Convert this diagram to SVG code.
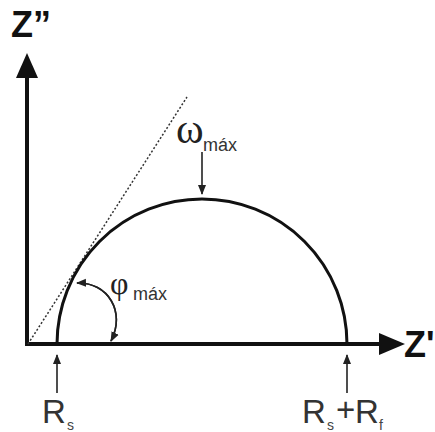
<svg xmlns="http://www.w3.org/2000/svg" width="435" height="432" viewBox="0 0 435 432">
<style>
.axis{stroke:#111;stroke-width:4;fill:none}
.curve{stroke:#111;stroke-width:3;fill:none}
.thin{stroke:#222;stroke-width:1.6;fill:none}
.dot{stroke:#333;stroke-width:1.5;stroke-dasharray:2 2;fill:none}
.big{font-family:"Liberation Sans",Arial,sans-serif;font-weight:bold;font-size:36px;fill:#111}
.lab{font-family:"Liberation Sans",Arial,sans-serif;font-size:33px;fill:#333}
.sub{font-family:"Liberation Sans",Arial,sans-serif;font-size:14px;fill:#444}
.msub{font-family:"Liberation Sans",Arial,sans-serif;font-size:18px;fill:#333}
.greek{font-family:"Liberation Serif","Times New Roman",serif;fill:#222}
</style>
<defs>
<marker id="ah" markerUnits="userSpaceOnUse" markerWidth="10" markerHeight="10" viewBox="0 0 10 10" refX="9" refY="5" orient="auto">
<path d="M0,1 L10,5 L0,9 Z" fill="#222"/>
</marker>
</defs>
<g id="connectors">
<line class="axis" x1="27" y1="346" x2="27" y2="74"/>
<polygon points="27,53 16,78 38,78" fill="#111"/>
<line class="axis" x1="25" y1="344" x2="382" y2="344"/>
<polygon points="405,344 379,333 379,355" fill="#111"/>
<line class="dot" x1="28" y1="344" x2="187" y2="97"/>
<path class="curve" d="M57,344 A145,145 0 0 1 347,344"/>
<path class="thin" d="M111,341 C126,312 108,282 77,283" marker-end="url(#ah)"/>
<path class="thin" d="M77,283 C108,282 126,312 111,341" marker-end="url(#ah)"/>
<line class="thin" x1="57" y1="393" x2="57" y2="355" marker-end="url(#ah)"/>
<line class="thin" x1="347" y1="393" x2="347" y2="355" marker-end="url(#ah)"/>
<line class="thin" x1="202" y1="152" x2="202" y2="194" marker-end="url(#ah)"/>
</g>
<g id="zimag"><text class="big" x="11" y="37">Z”</text></g>
<g id="zreal"><text class="big" x="404" y="357">Z'</text></g>
<g id="omega"><text class="greek" x="176" y="143" font-size="42">ω</text><text class="msub" x="203" y="151">máx</text></g>
<g id="phi"><text class="greek" x="110" y="294" font-size="32">φ</text><text class="msub" x="133" y="300">máx</text></g>
<g id="rs"><text class="lab" x="42" y="423">R</text><text class="sub" x="67" y="430">s</text></g>
<g id="rsrf"><text class="lab" x="302" y="423">R</text><text class="sub" x="327" y="430">s</text><text class="lab" x="336" y="421" font-size="26">+</text><text class="lab" x="355" y="423">R</text><text class="sub" x="379" y="430">f</text></g>
</svg>
